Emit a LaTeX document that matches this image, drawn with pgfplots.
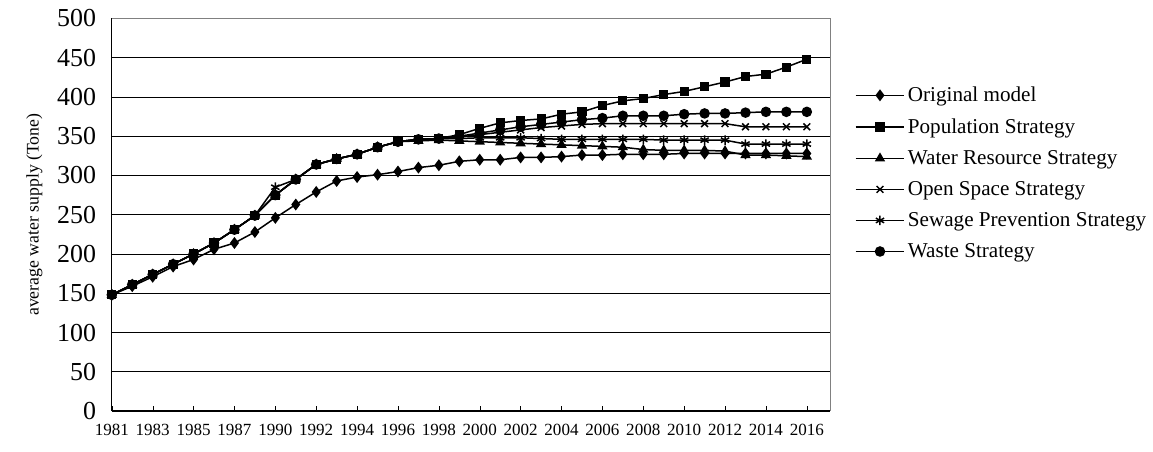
\documentclass[border=0pt]{standalone}
\usepackage{pgfplots}
\pgfplotsset{compat=1.18}
\usepackage{fontspec}
\setmainfont{Liberation Serif}
\begin{document}
\begin{tikzpicture}
\begin{axis}[
  scale only axis, width=527pt, height=288pt,
  xmin=0, xmax=35.15, ymin=0, ymax=500,
  ytick={0,50,...,500}, ymajorgrids, grid style={black, line width=0.6pt},
  xtick={0,2,...,34},
  xticklabels={1981,1983,1985,1987,1990,1992,1994,1996,1998,2000,2002,2004,2006,2008,2010,2012,2014,2016},
  /pgf/number format/assume math mode=true,
  yticklabel style={font=\fontsize{19}{21}\selectfont, xshift=-8pt},
  xticklabel style={font=\fontsize{12.5}{14}\selectfont, yshift=-6pt},
  ylabel={average water supply (Tone)},
  ylabel style={font=\fontsize{13}{15}\selectfont, yshift=4pt},
  axis x line*=bottom, axis y line*=left,
  axis line style={black, line width=0.9pt, -},
  tick style={black}, major tick length=4pt, ytick style={draw=none},
  clip=false,
  every axis plot/.append style={black, line width=1.1pt, mark size=3pt, mark options={solid}},
  legend style={at={(1.028,0.84)}, anchor=north west, draw=none, fill=none,
    font=\fontsize{15.5}{17}\selectfont, row sep=7pt},
  legend cell align=left,
  legend image code/.code={\draw[mark repeat=2,mark phase=2] plot coordinates {(0cm,0cm)(0.63cm,0cm)(1.26cm,0cm)};},
]
\draw[gray, line width=0.8pt] (rel axis cs:0,1) -- (rel axis cs:1,1) -- (rel axis cs:1,0);
\path (rel axis cs:0,0) ++(-82pt,-29.5pt) coordinate (padl);
\path (rel axis cs:0,1) ++(0,13.5pt) coordinate (padt);
\path[use as bounding box] (padl) rectangle (padt);
\addplot[mark=diamond*, mark size=3.5pt] coordinates {(0,148)(1,159)(2,171)(3,184)(4,193)(5,206)(6,214)(7,228)(8,246)(9,263)(10,279)(11,293)(12,298)(13,301)(14,305)(15,310)(16,313)(17,318)(18,320)(19,320)(20,323)(21,323)(22,324)(23,326)(24,326)(25,327)(26,327)(27,327)(28,328)(29,328)(30,328)(31,328)(32,328)(33,328)(34,328)};
\addlegendentry{Original model}
\addplot[mark=square*, mark size=2.8pt] coordinates {(0,148)(1,161)(2,174)(3,187)(4,200)(5,214)(6,231)(7,249)(8,275)(9,295)(10,314)(11,321)(12,327)(13,336)(14,343)(15,346)(16,347)(17,352)(18,360)(19,367)(20,370)(21,372)(22,378)(23,381)(24,389)(25,395)(26,398)(27,403)(28,407)(29,413)(30,419)(31,426)(32,429)(33,438)(34,448)};
\addlegendentry{Population Strategy}
\addplot[mark=triangle*, mark size=3.3pt] coordinates {(0,148)(1,161)(2,174)(3,187)(4,200)(5,214)(6,231)(7,249)(8,275)(9,295)(10,314)(11,321)(12,327)(13,336)(14,343)(15,344)(16,345)(17,344)(18,343)(19,342)(20,341)(21,340)(22,339)(23,338)(24,337)(25,336)(26,333)(27,332)(28,332)(29,332)(30,331)(31,326)(32,326)(33,325)(34,324)};
\addlegendentry{Water Resource Strategy}
\addplot[mark=x, mark size=3.5pt] coordinates {(0,148)(1,161)(2,174)(3,187)(4,200)(5,214)(6,231)(7,249)(8,275)(9,295)(10,314)(11,321)(12,327)(13,336)(14,343)(15,346)(16,347)(17,349)(18,352)(19,355)(20,358)(21,361)(22,363)(23,365)(24,366)(25,366)(26,366)(27,366)(28,366)(29,366)(30,366)(31,362)(32,362)(33,362)(34,362)};
\addlegendentry{Open Space Strategy}
\addplot[mark=asterisk, mark size=3.5pt] coordinates {(0,148)(1,161)(2,174)(3,187)(4,200)(5,214)(6,231)(7,249)(8,285)(9,295)(10,314)(11,321)(12,327)(13,336)(14,343)(15,346)(16,347)(17,347)(18,348)(19,348)(20,348)(21,347)(22,346)(23,346)(24,346)(25,346)(26,346)(27,345)(28,345)(29,345)(30,345)(31,340)(32,340)(33,340)(34,340)};
\addlegendentry{Sewage Prevention Strategy}
\addplot[mark=*, mark size=3.3pt] coordinates {(0,148)(1,161)(2,174)(3,187)(4,200)(5,214)(6,231)(7,249)(8,275)(9,295)(10,314)(11,321)(12,327)(13,336)(14,343)(15,346)(16,347)(17,350)(18,354)(19,358)(20,362)(21,365)(22,368)(23,371)(24,373)(25,376)(26,376)(27,376)(28,378)(29,379)(30,379)(31,380)(32,381)(33,381)(34,381)};
\addlegendentry{Waste Strategy}
\end{axis}
\end{tikzpicture}
\end{document}
